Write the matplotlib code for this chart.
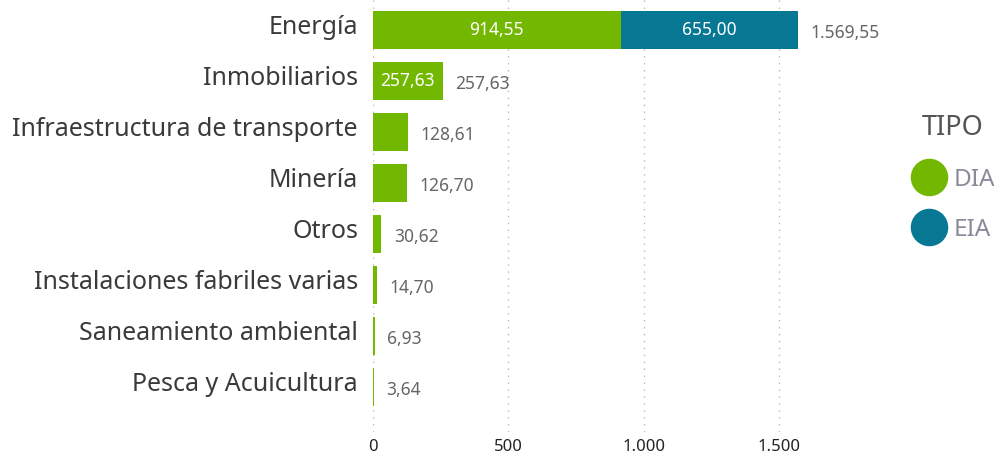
import numpy as np
import matplotlib.pyplot as plt
from matplotlib.lines import Line2D

# data
categorias = ['Energía', 'Inmobiliarios', 'Infraestructura de transporte', 'Minería',
              'Otros', 'Instalaciones fabriles varias', 'Saneamiento ambiental', 'Pesca y Acuicultura']
dia = [914.55, 257.63, 128.61, 126.70, 30.62, 14.70, 6.93, 3.64]
eia = [655.00, 0, 0, 0, 0, 0, 0, 0]
ticks = [0, 500, 1000, 1500]

verde = '#73B800'
azul = '#077894'

def fmt(v):
    s = f'{v:,.2f}'
    return s.replace(',', 'X').replace('.', ',').replace('X', '.')

plt.rcParams['font.family'] = ['Noto Sans', 'DejaVu Sans']

fig = plt.figure(figsize=(9.95, 4.58), dpi=100)
ax = fig.add_axes([373 / 995, 1 - 432 / 458, (885 - 373) / 995, 432 / 458])

y = np.arange(len(categorias))
total = np.array(dia) + np.array(eia)
ax.barh(y, dia, height=0.75, color=verde)
ax.barh(y, eia, left=dia, height=0.75, color=azul)

# etiquetas dentro de las barras
for i in range(len(categorias)):
    if dia[i] > 200:
        ax.text(dia[i] / 2, y[i], fmt(dia[i]), color='white', ha='center', va='center', fontsize=12.5)
    if eia[i] > 0:
        ax.text(dia[i] + eia[i] / 2, y[i], fmt(eia[i]), color='white', ha='center', va='center', fontsize=12.5)
    ax.annotate(fmt(total[i]), (total[i], y[i]), xytext=(9, -2), textcoords='offset points',
                ha='left', va='center', color='#666666', fontsize=12.5)
    # nombre de categoria, un poco por encima del centro de la barra
    ax.annotate(categorias[i], (0, y[i]), xycoords=('axes fraction', 'data'),
                xytext=(-15, 3), textcoords='offset pixels',
                ha='right', va='center', fontsize=18, color='#3a3a3a')

ax.set_yticks(y)
ax.set_yticklabels([])
ax.set_xticks(ticks)
ax.set_xticklabels([fmt(t)[:-3] for t in ticks], fontsize=12, color='#222222')
ax.set_xlim(0, 1891)
ax.set_ylim(7.88, -0.59)
ax.tick_params(axis='both', length=0)
ax.tick_params(axis='x', pad=5)
for s in ax.spines.values():
    s.set_visible(False)
ax.grid(axis='x', linestyle=(0, (1, 4)), color='#bbbbbb', linewidth=1)
ax.grid(axis='y', visible=False)
ax.set_axisbelow(True)

handles = [Line2D([], [], marker='o', linestyle='', markersize=26, color=verde),
           Line2D([], [], marker='o', linestyle='', markersize=26, color=azul)]
leg = fig.legend(handles, ['DIA', 'EIA'], title='TIPO', loc='center',
                 bbox_to_anchor=(953 / 995, 1 - 178 / 458), frameon=False,
                 fontsize=17.5, title_fontsize=19.5, handletextpad=0.3, labelspacing=1.05,
                 handlelength=1.5)
for t in leg.get_texts():
    t.set_color('#8a8a9a')
leg.get_title().set_color('#555555')

fig.savefig('out.png', dpi=100)
